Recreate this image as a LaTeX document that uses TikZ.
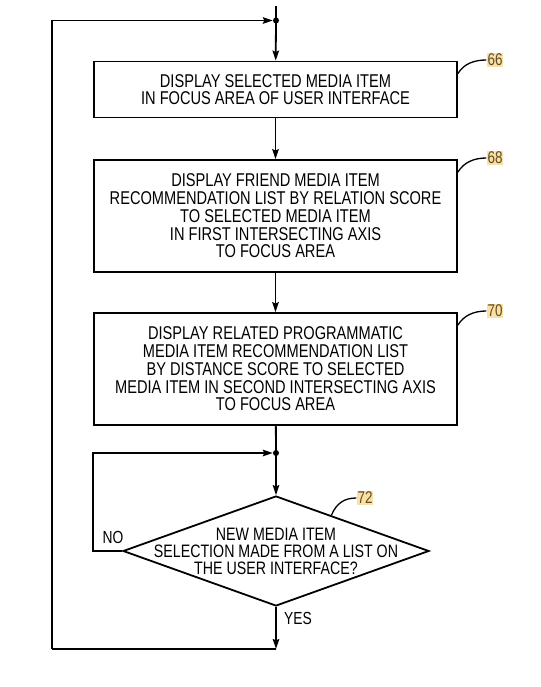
\documentclass[tikz,border=0pt]{standalone}
\usepackage{fontspec}
\setmainfont{Liberation Sans}[FakeStretch=0.79]
\usepackage{tikz}
\usetikzlibrary{shapes.geometric,arrows.meta,calc}
\definecolor{refbg}{RGB}{250,224,162}
\definecolor{reftext}{RGB}{95,75,40}

\begin{document}
\begin{tikzpicture}[x=1pt,y=-1pt,
  every node/.style={font=\fontsize{18.5}{17.7}\selectfont},
  stepbox/.style={draw,line width=1.8pt,minimum width=363pt,inner sep=0pt,align=center},
  decision/.style={draw,diamond,line width=1.8pt,minimum width=306pt,minimum height=110pt,inner sep=0pt,aspect=2.78},
  flow/.style={line width=1.8pt,-{Stealth[length=10pt,width=6.5pt,inset=1.5pt]}},
  line/.style={line width=1.8pt},
  lead/.style={line width=1.3pt},
  ref/.style={fill=refbg,text=reftext,inner sep=1pt,font=\fontsize{17}{17}\selectfont},
  dot/.style={circle,fill,inner sep=0pt,minimum size=6pt}]
\useasboundingbox (0,0) rectangle (540,687);

% process steps
\node[stepbox,minimum height=56pt] (disp) at (275.5,89.5)
  {DISPLAY SELECTED MEDIA ITEM\\IN FOCUS AREA OF USER INTERFACE};
\node[stepbox,minimum height=112pt] (friend) at (275.5,216)
  {DISPLAY FRIEND MEDIA ITEM\\RECOMMENDATION LIST BY RELATION SCORE\\TO SELECTED MEDIA ITEM\\IN FIRST INTERSECTING AXIS\\TO FOCUS AREA};
\node[stepbox,minimum height=112pt] (related) at (275.5,369)
  {DISPLAY RELATED PROGRAMMATIC\\MEDIA ITEM RECOMMENDATION LIST\\BY DISTANCE SCORE TO SELECTED\\MEDIA ITEM IN SECOND INTERSECTING AXIS\\TO FOCUS AREA};
\node[decision,label={[align=center,font=\fontsize{18}{17}\selectfont]center:NEW MEDIA ITEM\\SELECTION MADE FROM A LIST ON\\THE USER INTERFACE?}] (newsel) at (276,551) {};

% junctions
\coordinate (start) at (276,6);
\node[dot] (top) at (276,20.5) {};
\node[dot] (loop) at (276,453) {};
\coordinate (yes) at (276,649);
\coordinate (corner) at (52,649);
\coordinate (back) at (52,20.5);

% main flow
\draw[line] (start) -- (top.center);
\draw[flow] (top.center) -- (disp);
\draw[flow] (disp) -- (friend);
\draw[flow] (friend) -- (related);
\draw[line] (related) -- (loop.center);
\draw[flow] (loop.center) -- (newsel.north);
\draw[flow] (newsel.south) -- (yes);
\draw[line] (yes) -- (corner);
\draw[flow] (corner) -- (back) -- (top);
\draw[flow] (newsel.west) -- ++(-29,0) |- (loop);
\node (no) at (113,537) {\fontsize{17.5}{17}\selectfont NO};
\node (yeslbl) at (298,618) {\fontsize{17.5}{17}\selectfont YES};

% reference numerals
\node[ref] (r66) at (495,60) {66};
\node[ref] (r68) at (495,158) {68};
\node[ref] (r70) at (495,311) {70};
\node[ref] (r72) at (365,498) {72};
\draw[lead] ([yshift=-13pt]disp.north east) .. controls +(6,-10) and +(-12,0) .. (r66.west);
\draw[lead] ([yshift=-13pt]friend.north east) .. controls +(6,-10) and +(-12,0) .. (r68.west);
\draw[lead] ([yshift=-13pt]related.north east) .. controls +(6,-10) and +(-12,0) .. (r70.west);
\draw[lead] ($(newsel.north)!0.36!(newsel.east)$) .. controls +(5,-12) and +(-12,0) .. (r72.west);
\end{tikzpicture}
\end{document}
